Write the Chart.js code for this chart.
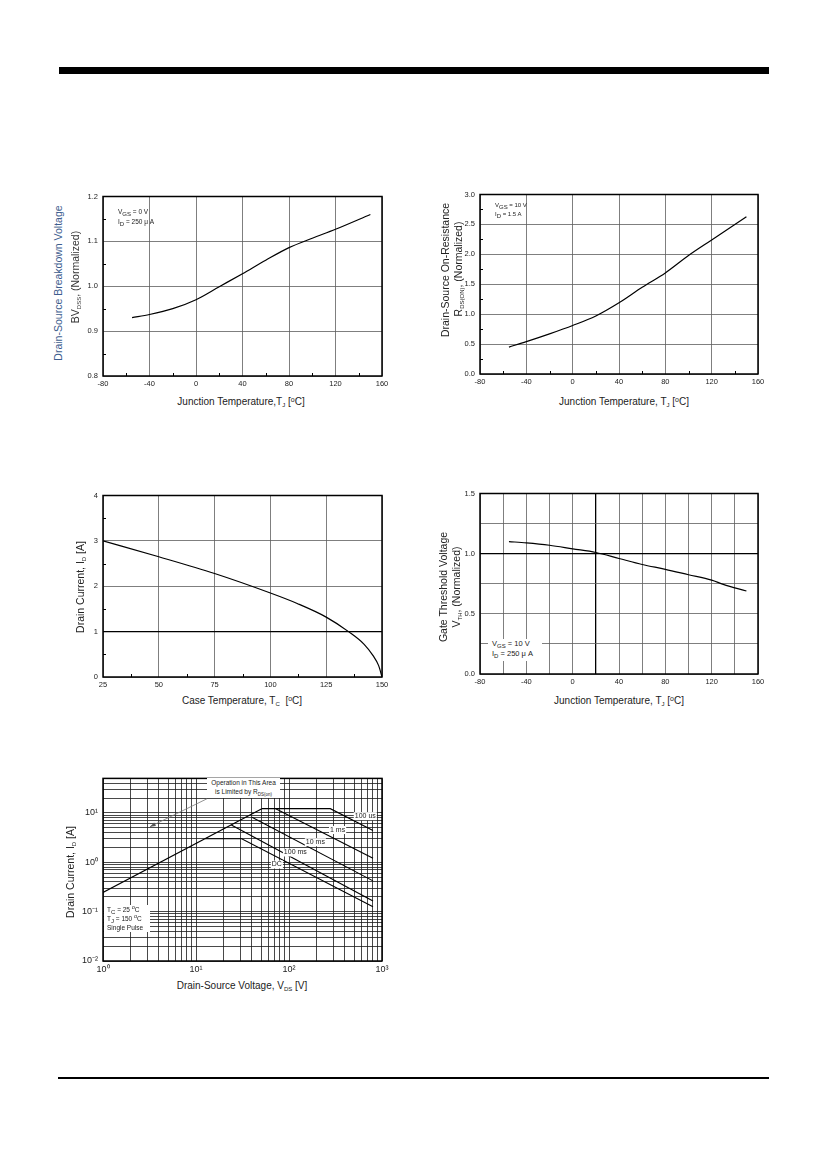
<!DOCTYPE html>
<html>
<head>
<meta charset="utf-8">
<script src="https://cdn.jsdelivr.net/npm/chart.js@4.4.0/dist/chart.umd.min.js"></script>
<style>
html,body{margin:0;padding:0;background:#fff}
body{width:827px;height:1169px;position:relative;overflow:hidden;font-family:Arial,"Liberation Sans",sans-serif;color:#222}
canvas{position:absolute}
.barra{position:absolute;left:59px;top:67px;width:710px;height:7px;background:#000}
.rodape{position:absolute;left:58px;top:1077px;width:711px;height:2px;background:#000}
.t{position:absolute;white-space:nowrap;font-size:10px;transform:translate(-50%,-50%)}
.ty{position:absolute;white-space:nowrap;font-size:10.5px;transform:translate(-50%,-50%) rotate(-90deg)}
.n{position:absolute;white-space:nowrap;font-size:6.5px;color:#222}
sub{font-size:6px;vertical-align:-2px;line-height:0}
sup{font-size:7px;vertical-align:3px;line-height:0}
.n sup{font-size:5.5px}
.caixa{background:#fff}
</style>
</head>
<body>
<div class="barra"></div>
<div class="rodape"></div>

<canvas id="g1" width="325" height="205" style="left:71px;top:187px"></canvas>
<canvas id="g2" width="324" height="205" style="left:448px;top:185px"></canvas>
<canvas id="g3" width="325" height="207" style="left:71px;top:486px"></canvas>
<canvas id="g4" width="324" height="206" style="left:448px;top:484px"></canvas>
<canvas id="g5" width="325" height="209" style="left:71px;top:768px"></canvas>

<!-- textos do grafico 1 -->
<div class="t" style="left:241px;top:401px">Junction Temperature,T<sub>J</sub> [<sup>o</sup>C]</div>
<div class="ty" style="left:58px;top:283px;color:#3d5d8e">Drain-Source Breakdown Voltage</div>
<div class="ty" style="left:75px;top:277px;color:#333">BV<sub>DSS</sub>, (Normalized)</div>
<div class="n" style="left:118px;top:207px;line-height:10px">V<sub>GS</sub> = 0 V<br>I<sub>D</sub> = 250 &mu; A</div>

<!-- textos do grafico 2 -->
<div class="t" style="left:624px;top:401px">Junction Temperature, T<sub>J</sub> [<sup>o</sup>C]</div>
<div class="ty" style="left:445px;top:270px">Drain-Source On-Resistance</div>
<div class="ty" style="left:458px;top:269px">R<sub>DS(ON)</sub>, (Normalized)</div>
<div class="n" style="left:495px;top:201px;line-height:9px;font-size:6px">V<sub>GS</sub> = 10 V<br>I<sub>D</sub> = 1.5 A</div>

<!-- textos do grafico 3 -->
<div class="t" style="left:242px;top:700px">Case Temperature, T<sub>C</sub> &nbsp;[<sup>o</sup>C]</div>
<div class="ty" style="left:80px;top:587px">Drain Current, I<sub>D</sub> [A]</div>

<!-- textos do grafico 4 -->
<div class="t" style="left:619px;top:700px">Junction Temperature, T<sub>J</sub> [<sup>o</sup>C]</div>
<div class="ty" style="left:443px;top:587px">Gate Threshold Voltage</div>
<div class="ty" style="left:456px;top:587px">V<sub>TH</sub>, (Normalized)</div>
<div class="n caixa" style="left:488px;top:639px;width:50px;height:22px;padding-left:4px;font-size:7.5px;line-height:10px;padding-top:0">V<sub>GS</sub> = 10 V<br>I<sub>D</sub> = 250 &mu; A</div>

<!-- textos do grafico 5 -->
<div class="t" style="left:242px;top:985px">Drain-Source Voltage, V<sub>DS</sub> [V]</div>
<div class="ty" style="left:70px;top:872px">Drain Current, I<sub>D</sub> [A]</div>
<div class="n caixa" style="left:207px;top:778px;width:73px;height:19px;text-align:center;line-height:8.5px;padding-top:1px">Operation in This Area<br>is Limited by R<sub style="font-size:4.5px">DS(on)</sub></div>
<div class="n caixa" style="left:104px;top:905px;width:43px;height:27px;padding-left:3px;line-height:9px">T<sub>C</sub> = 25 <sup>o</sup>C<br>T<sub>J</sub> = 150 <sup>o</sup>C<br>Single Pulse</div>

<script>
const fonte = 'Arial, "Liberation Sans", sans-serif';

// Grafico 1 - BVdss normalizado x Tj ------------------------------------
const bvTemp = [-55, -40, -20, 0, 20, 40, 60, 80, 100, 120, 150];
const bvNorm = [0.930, 0.937, 0.950, 0.970, 0.999, 1.028, 1.058, 1.086, 1.107, 1.127, 1.160];
const bvTicksX = [-80, -40, 0, 40, 80, 120, 160];
const bvTicksY = [0.8, 0.9, 1.0, 1.1, 1.2];

// Grafico 2 - Rds(on) normalizado x Tj ----------------------------------
const rdsTemp = [-55, -40, -20, 0, 20, 40, 60, 80, 100, 120, 150];
const rdsNorm = [0.45, 0.54, 0.67, 0.81, 0.97, 1.19, 1.45, 1.69, 1.98, 2.24, 2.63];
const rdsTicksX = [-80, -40, 0, 40, 80, 120, 160];
const rdsTicksY = [0, 0.5, 1.0, 1.5, 2.0, 2.5, 3.0];

// Grafico 3 - Id maximo x Tc ---------------------------------------------
const idTemp = [25, 50, 75, 100, 112, 125, 135, 142, 146, 148.5, 150];
const idCorr = [3.0, 2.65, 2.28, 1.85, 1.62, 1.32, 1.0, 0.72, 0.47, 0.25, 0];
const idTicksX = [25, 50, 75, 100, 125, 150];
const idTicksY = [0, 1, 2, 3, 4];

// Grafico 4 - Vth normalizado x Tj --------------------------------------
const vthTemp = [-55, -40, -20, 0, 20, 40, 60, 80, 100, 120, 130, 150];
const vthNorm = [1.10, 1.09, 1.07, 1.04, 1.01, 0.96, 0.91, 0.87, 0.825, 0.78, 0.745, 0.69];
const vthTicksX = [-80, -60, -40, -20, 0, 20, 40, 60, 80, 100, 120, 140, 160];
const vthTicksY = [0, 0.25, 0.5, 0.75, 1.0, 1.25, 1.5];

// Grafico 5 - SOA (area de operacao segura) ------------------------------
const soaRdsV = [1, 51];          const soaRdsI = [0.245, 12.2];
const soa100usV = [51, 278, 800]; const soa100usI = [12.2, 12.2, 4.4];
const soa1msV = [72, 800];        const soa1msI = [12.2, 1.2];
const soa10msV = [40, 800];       const soa10msI = [8.2, 0.42];
const soa100msV = [24, 800];      const soa100msI = [5.7, 0.165];
const soaDcV = [12.5, 31, 800];   const soaDcI = [3.0, 3.0, 0.125];
const soaTicksX = [1, 2, 3, 4, 5, 6, 7, 8, 9, 10, 20, 30, 40, 50, 60, 70, 80, 90, 100, 200, 300, 400, 500, 600, 700, 800, 900, 1000];
const soaTicksY = [0.01, 0.02, 0.03, 0.04, 0.05, 0.06, 0.07, 0.08, 0.09, 0.1, 0.2, 0.3, 0.4, 0.5, 0.6, 0.7, 0.8, 0.9, 1, 2, 3, 4, 5, 6, 7, 8, 9, 10, 20, 30, 40, 50];
const soaRotulos = ['100 us', '1 ms', '10 ms', '100 ms', 'DC'];
const soaRotV = [661, 333, 192, 117, 74];
const soaRotI = [8.6, 4.5, 2.55, 1.58, 0.9];
//--------------------------------------------------------------------------

// moldura preta + tracinhos menores pra dentro
const moldura = {
  id: 'moldura',
  afterDraw(chart, args, o) {
    const {ctx, chartArea: a, scales} = chart;
    ctx.save();
    ctx.strokeStyle = '#000';
    ctx.lineWidth = 1;
    (o.minorX || []).forEach(v => {
      const px = Math.round(scales.x.getPixelForValue(v)) + 0.5;
      ctx.beginPath(); ctx.moveTo(px, a.bottom); ctx.lineTo(px, a.bottom - 3); ctx.stroke();
    });
    (o.minorY || []).forEach(v => {
      const py = Math.round(scales.y.getPixelForValue(v)) + 0.5;
      ctx.beginPath(); ctx.moveTo(a.left, py); ctx.lineTo(a.left + 3, py); ctx.stroke();
    });
    ctx.lineWidth = 1.5;
    ctx.strokeRect(a.left, a.top, a.width, a.height);
    ctx.restore();
  }
};

// rotulos e seta do grafico SOA
const rotulosSoa = {
  id: 'rotulosSoa',
  afterDatasetsDraw(chart) {
    const {ctx, scales} = chart;
    ctx.save();
    ctx.font = '7px ' + fonte;
    ctx.textAlign = 'center';
    ctx.textBaseline = 'middle';
    soaRotulos.forEach((txt, i) => {
      const px = scales.x.getPixelForValue(soaRotV[i]);
      const py = scales.y.getPixelForValue(soaRotI[i]);
      const w = ctx.measureText(txt).width + 2;
      ctx.fillStyle = '#fff';
      ctx.fillRect(px - w / 2, py - 4, w, 8);
      ctx.fillStyle = '#222';
      ctx.fillText(txt, px, py);
    });
    // seta "Operation in This Area"
    const x1 = scales.x.getPixelForValue(13.1), y1 = scales.y.getPixelForValue(19.3);
    const x2 = scales.x.getPixelForValue(3.2), y2 = scales.y.getPixelForValue(5.25);
    ctx.strokeStyle = '#777'; ctx.fillStyle = '#555'; ctx.lineWidth = 0.8;
    ctx.beginPath(); ctx.moveTo(x1, y1); ctx.lineTo(x2, y2); ctx.stroke();
    const ang = Math.atan2(y2 - y1, x2 - x1);
    ctx.beginPath();
    ctx.moveTo(x2, y2);
    ctx.lineTo(x2 - 6 * Math.cos(ang - 0.35), y2 - 6 * Math.sin(ang - 0.35));
    ctx.lineTo(x2 - 6 * Math.cos(ang + 0.35), y2 - 6 * Math.sin(ang + 0.35));
    ctx.closePath(); ctx.fill();
    ctx.restore();
  }
};

function escala(c, eixo) {
  const escuros = c.escuros || [];
  return {
    type: c.tipo || 'linear',
    min: c.min,
    max: c.max,
    afterBuildTicks: s => { s.ticks = c.ticks.map(v => ({value: v})); },
    afterFit: s => { if (eixo === 'x') s.height = 16; else s.width = 32; },
    ticks: {
      autoSkip: false, maxRotation: 0,
      padding: eixo === 'x' ? 3 : 5,
      color: '#222',
      font: {family: fonte, size: c.fonteTam || 7.5},
      callback: v => c.label(v)
    },
    grid: {
      drawTicks: false,
      color: ctx => escuros.includes(ctx.tick && ctx.tick.value) ? '#000' : (c.cor || '#5e5e5e'),
      lineWidth: ctx => escuros.includes(ctx.tick && ctx.tick.value) ? 1.3 : 0.8
    },
    border: {display: false}
  };
}

function opcoes(cx, cy, molduraOpc) {
  return {
    responsive: false,
    animation: false,
    layout: {padding: {top: 8, right: 14, bottom: 0, left: 0}},
    plugins: {legend: {display: false}, tooltip: {enabled: false}, moldura: molduraOpc || {}},
    scales: {x: escala(cx, 'x'), y: escala(cy, 'y')}
  };
}

function grafico(id, xs, ys, cx, cy, molduraOpc) {
  return new Chart(document.getElementById(id), {
    type: 'line',
    data: {
      datasets: [{
        data: xs.map((x, i) => ({x: x, y: ys[i]})),
        borderColor: '#000', borderWidth: 1.2, pointRadius: 0, fill: false,
        cubicInterpolationMode: 'monotone'
      }]
    },
    options: opcoes(cx, cy, molduraOpc),
    plugins: [moldura]
  });
}

const num = v => String(v);
const dec1 = v => v.toFixed(1);

grafico('g1', bvTemp, bvNorm,
  {min: -80, max: 160, ticks: bvTicksX, label: num},
  {min: 0.8, max: 1.2, ticks: bvTicksY, label: dec1},
  {minorX: [-60, -20, 20, 60, 100, 140], minorY: [0.85, 0.95, 1.05, 1.15]});

grafico('g2', rdsTemp, rdsNorm,
  {min: -80, max: 160, ticks: rdsTicksX, label: num},
  {min: 0, max: 3, ticks: rdsTicksY, label: dec1},
  {minorX: [-60, -20, 20, 60, 100, 140], minorY: [0.25, 0.75, 1.25, 1.75, 2.25, 2.75]});

grafico('g3', idTemp, idCorr,
  {min: 25, max: 150, ticks: idTicksX, label: num},
  {min: 0, max: 4, ticks: idTicksY, label: num, escuros: [1]},
  {minorX: [37.5, 62.5, 87.5, 112.5, 137.5], minorY: [0.5, 1.5, 2.5, 3.5]});

grafico('g4', vthTemp, vthNorm,
  {min: -80, max: 160, ticks: vthTicksX, label: v => (v % 40 === 0 ? String(v) : ''), escuros: [20]},
  {min: 0, max: 1.5, ticks: vthTicksY, label: v => (Math.abs(v * 2 - Math.round(v * 2)) < 1e-9 ? v.toFixed(1) : ''), escuros: [1]},
  {});

// SOA ---------------------------------------------------------------------
const sobrescrito = {'-': '\u207B', '0': '\u2070', '1': '\u00B9', '2': '\u00B2', '3': '\u00B3'};
function potencia(v) {
  const e = Math.log10(v);
  if (Math.abs(e - Math.round(e)) > 1e-6) return '';
  return '10' + String(Math.round(e)).split('').map(ch => sobrescrito[ch]).join('');
}

function serie(vs, is) {
  return {
    data: vs.map((v, i) => ({x: v, y: is[i]})),
    borderColor: '#000', borderWidth: 1.1, pointRadius: 0, fill: false, tension: 0
  };
}

new Chart(document.getElementById('g5'), {
  type: 'line',
  data: {
    datasets: [
      serie(soaRdsV, soaRdsI),
      serie(soa100usV, soa100usI),
      serie(soa1msV, soa1msI),
      serie(soa10msV, soa10msI),
      serie(soa100msV, soa100msI),
      serie(soaDcV, soaDcI)
    ]
  },
  options: opcoes(
    {tipo: 'logarithmic', min: 1, max: 1000, ticks: soaTicksX, label: potencia, cor: '#1a1a1a', fonteTam: 9},
    {tipo: 'logarithmic', min: 0.01, max: 50, ticks: soaTicksY, label: potencia, cor: '#1a1a1a', fonteTam: 9},
    {}),
  plugins: [rotulosSoa, moldura]
});
</script>
</body>
</html>
